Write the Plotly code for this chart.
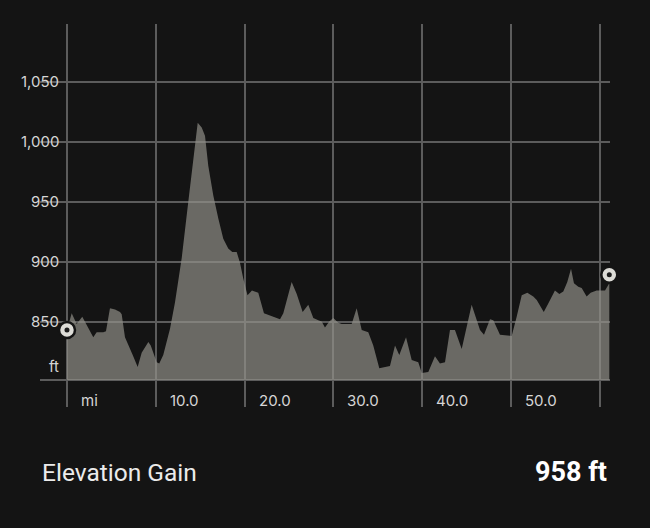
import plotly.graph_objects as go

# Elevation profile (distance in miles, elevation in feet)
distance_mi = [0.00, 0.53, 1.09, 1.72, 2.96, 3.34, 4.09, 4.39, 4.84, 5.41, 5.97, 6.16, 6.53, 6.90,
               7.40, 7.96, 8.41, 9.16, 9.43, 10.10, 10.39, 10.84, 11.60, 12.16, 12.92, 13.66, 14.22,
               14.72, 15.17, 15.54, 15.91, 16.48, 17.04, 17.60, 18.16, 18.61, 19.11, 19.48, 19.85,
               20.33, 20.83, 21.28, 21.54, 22.18, 22.86, 23.42, 23.99, 24.36, 25.30, 25.87, 26.54,
               27.17, 27.74, 28.30, 28.68, 29.05, 29.54, 29.99, 30.55, 30.93, 32.06, 32.62, 33.19,
               33.93, 34.49, 35.17, 35.81, 36.37, 36.94, 37.42, 38.18, 38.82, 39.56, 39.95, 40.69,
               41.44, 42.00, 42.57, 43.13, 43.69, 44.45, 45.57, 46.51, 46.96, 47.64, 48.01, 48.76,
               49.70, 50.08, 50.64, 51.21, 51.84, 52.51, 52.90, 53.69, 54.20, 54.95, 55.44, 55.89,
               56.34, 56.76, 57.09, 57.58, 57.96, 58.52, 58.97, 59.65, 60.59, 60.85, 61.07]
elevation_ft = [843, 857, 848, 854, 837, 841, 841, 842, 861, 860, 858, 856, 837, 830,
                822, 812, 824, 833, 830, 816, 815, 822, 844, 866, 903, 950, 986,
                1016, 1012, 1005, 980, 955, 936, 919, 911, 908, 908, 899, 886,
                872, 876, 875, 874, 857, 855, 853, 852, 857, 883, 873, 858,
                864, 853, 851, 850, 845, 850, 853, 849, 848, 848, 861, 843,
                841, 830, 811, 812, 813, 830, 822, 837, 818, 816, 807, 808,
                821, 815, 816, 843, 843, 827, 864, 843, 839, 852, 851, 839,
                838, 838, 854, 872, 874, 871, 868, 858, 865, 876, 873, 875,
                883, 894, 882, 879, 878, 871, 874, 876, 876, 879, 882]

# start / end markers
marker_mi = [0.0, 61.07]
marker_ft = [843, 889]

x_tick_vals = [0, 10, 20, 30, 40, 50]
x_tick_text = ["mi", "10.0", "20.0", "30.0", "40.0", "50.0"]
x_grid_vals = [0, 10, 20, 30, 40, 50, 60, 61.07]

y_tick_vals = [850, 900, 950, 1000, 1050]
y_tick_text = ["850", "900", "950", "1,000", "1,050"]
y_floor = 801.25
y_ceiling = 1097.9
y_grid_vals = [y_floor] + y_tick_vals + [y_ceiling]

summary_label = "Elevation Gain"
summary_value = "958 ft"

BG = "#141414"
GRID = "#5c5c5c"
FONT = "Inter"
SUMFONT = "Roboto"

fig = go.Figure()

fig.add_trace(go.Scatter(
    x=[distance_mi[0], distance_mi[-1]], y=[y_floor, y_floor],
    mode="lines", line=dict(width=0, color="rgba(0,0,0,0)"),
    hoverinfo="skip", showlegend=False))
fig.add_trace(go.Scatter(
    x=distance_mi, y=elevation_ft, mode="lines",
    line=dict(width=0, color="rgba(0,0,0,0)"),
    fill="tonexty", fillcolor="rgba(148,146,138,0.68)",
    showlegend=False))

fig.add_trace(go.Scatter(
    x=marker_mi, y=marker_ft, mode="markers",
    marker=dict(size=16, color="#dddcd7", line=dict(color=BG, width=2.5)),
    cliponaxis=False, showlegend=False))
fig.add_trace(go.Scatter(
    x=marker_mi, y=marker_ft, mode="markers",
    marker=dict(size=5, color="#1c1c1c", line=dict(width=0)),
    cliponaxis=False, showlegend=False))

annotations = []
for v, t in zip(x_tick_vals, x_tick_text):
    annotations.append(dict(x=v, y=400, xref="x", yref="paper", yshift=0,
                            text=t, showarrow=False, xanchor="left", yanchor="middle",
                            xshift=12, font=dict(family=FONT, size=15, color="#d6d6d6")))
# y labels
for v, t in zip(y_tick_vals, y_tick_text):
    annotations.append(dict(x=0, y=v, xref="paper", yref="y", text=t, showarrow=False,
                            xanchor="right", yanchor="middle", xshift=21,
                            font=dict(family=FONT, size=15, color="#d6d6d6")))
annotations.append(dict(x=0, y=y_floor, xref="paper", yref="y", text="ft", showarrow=False,
                        xanchor="right", yanchor="bottom", xshift=21, yshift=2,
                        font=dict(family=FONT, size=15, color="#d6d6d6")))
annotations.append(dict(x=40, y=472, xref="paper", yref="paper", text=summary_label,
                        showarrow=False, xanchor="left", yanchor="middle",
                        font=dict(family=SUMFONT, size=24.5, color="#ebebeb")))
annotations.append(dict(x=609, y=472, xref="paper", yref="paper",
                        text="<b>" + summary_value + "</b>",
                        showarrow=False, xanchor="right", yanchor="middle",
                        font=dict(family=SUMFONT, size=27, color="#ffffff")))

# convert pixel-positioned paper annotations
W, H = 650, 528
ml, mr, mt, mb = 40, 40, 24, 121
pw, ph = W - ml - mr, H - mt - mb
for a in annotations:
    if a["xref"] == "paper" and a["x"] > 1:
        a["x"] = (a["x"] - ml) / pw
    if a["yref"] == "paper" and a["y"] > 1:
        a["y"] = (H - mb - a["y"]) / ph

fig.update_layout(
    width=W, height=H,
    margin=dict(l=ml, r=mr, t=mt, b=mb, pad=0),
    paper_bgcolor=BG, plot_bgcolor=BG,
    showlegend=False,
    annotations=annotations,
    xaxis=dict(range=[-3.04, 61.15], tickmode="array", tickvals=x_grid_vals,
               showticklabels=False, showgrid=True, gridcolor=GRID, gridwidth=1.5,
               zeroline=False, showline=False, ticks="", fixedrange=True),
    yaxis=dict(range=[778.7, 1098.3], tickmode="array", tickvals=y_grid_vals,
               showticklabels=False, showgrid=True, gridcolor=GRID, gridwidth=1.5,
               zeroline=False, showline=False, ticks="", fixedrange=True),
)

fig.write_html("out.html")
